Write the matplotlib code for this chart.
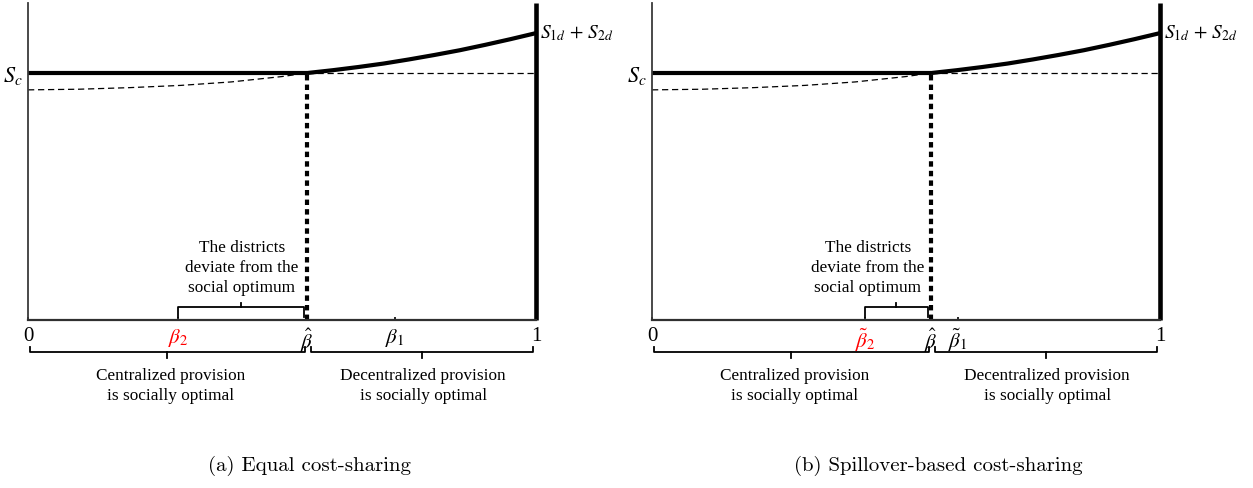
import matplotlib.pyplot as plt
from matplotlib.transforms import blended_transform_factory

plt.rcParams['mathtext.fontset'] = 'stix'

# shared curve shapes (y scaled 0..1 over the axes height)
beta_hat = 0.549
s_c = 0.779
dec_x = [0.549, 0.60, 0.65, 0.70, 0.75, 0.80, 0.85, 0.90, 0.95, 1.0]
dec_y = [0.779, 0.788, 0.798, 0.809, 0.822, 0.836, 0.851, 0.868, 0.886, 0.905]
dash_x = [0.0, 0.1, 0.2, 0.3, 0.4, 0.5, 0.549]
dash_y = [0.726, 0.728, 0.733, 0.740, 0.751, 0.768, 0.779]

# per-panel tick positions and labels
beta2_a, beta1_a = 0.295, 0.722
beta2_b, beta1_b = 0.419, 0.602
labels_a = ['0', r'$\beta_2$', r'$\hat{\beta}$', r'$\beta_1$', '1']
labels_b = ['0', r'$\tilde{\beta}_2$', r'$\hat{\beta}$', r'$\tilde{\beta}_1$', '1']
captions = ['(a) Equal cost-sharing', '(b) Spillover-based cost-sharing']

serif = 'Liberation Serif'
px = 1 / 317.0


def brace(ax, x0, x1, y, hook, tick):
    tr = blended_transform_factory(ax.transData, ax.transAxes)
    xm = (x0 + x1) / 2
    ax.plot([x0, x0, x1, x1], [y + hook, y, y, y + hook], color='black', lw=1.3,
            transform=tr, clip_on=False, solid_joinstyle='round')
    ax.plot([xm, xm], [y, y + tick], color='black', lw=1.3, transform=tr, clip_on=False)


def panel(ax, beta2, beta1, labels, text_x):
    ax.set_xlim(0, 1)
    ax.set_ylim(0, 1)
    for s in ['top', 'right']:
        ax.spines[s].set_visible(False)
    ax.spines['left'].set_linewidth(1.3)
    ax.spines['left'].set_color('#3a3a3a')
    ax.spines['bottom'].set_linewidth(1.6)
    ax.spines['bottom'].set_color('#303030')

    ax.plot([0, beta_hat], [s_c, s_c], color='black', lw=3.0, solid_capstyle='butt')
    ax.plot(dec_x, dec_y, color='black', lw=3.0, solid_capstyle='butt', solid_joinstyle='round')
    ax.plot(dash_x, dash_y, color='black', lw=0.9, dashes=(5, 3))
    ax.plot([beta_hat, 1], [s_c, s_c], color='black', lw=0.9, dashes=(5, 3))
    ax.plot([beta_hat, beta_hat], [0, s_c], color='black', lw=3.0, dashes=(1.3, 1.0))
    ax.plot([1, 1], [0, 1], color='black', lw=3.3, solid_capstyle='butt', clip_on=False)

    ax.set_xticks([0, beta2, beta_hat, beta1, 1])
    ax.set_xticklabels(labels)
    ax.tick_params(axis='x', direction='in', length=2, width=1.2, pad=5, labelsize=15)
    ticklabels = ax.get_xticklabels()
    ticklabels[1].set_color('red')
    for t in [ticklabels[0], ticklabels[4]]:
        t.set_fontfamily(serif)
        t.set_fontsize(15)
    ax.set_yticks([s_c])
    ax.set_yticklabels([r'$S_c$'])
    ax.tick_params(axis='y', length=0, pad=4, labelsize=16)
    ax.text(1.008, 0.905, r'$S_{1d}\,+\,S_{2d}$', fontsize=14, va='center', ha='left')

    brace(ax, beta2, beta_hat - 0.006, 13 * px, -10 * px, 4 * px)
    tr = blended_transform_factory(ax.transData, ax.transAxes)
    ax.text(text_x, 0.164, 'The districts\ndeviate from the\nsocial optimum', transform=tr,
            ha='center', va='center', fontsize=12.4, family=serif, linespacing=1.36)

    brace(ax, 0.004, beta_hat - 0.004, -32 * px, 5 * px, -6 * px)
    brace(ax, beta_hat + 0.008, 0.994, -32 * px, 5 * px, -6 * px)
    ax.text(0.28, -0.207, 'Centralized provision\nis socially optimal', transform=tr,
            ha='center', va='center', fontsize=12.4, family=serif, linespacing=1.32)
    ax.text(0.778, -0.207, 'Decentralized provision\nis socially optimal', transform=tr,
            ha='center', va='center', fontsize=12.4, family=serif, linespacing=1.32)


fig = plt.figure(figsize=(12.53, 4.88), dpi=100)
ax_a = fig.add_axes([28 / 1253, 168 / 488, 508 / 1253, 317 / 488])
ax_b = fig.add_axes([652 / 1253, 168 / 488, 508 / 1253, 317 / 488])
panel(ax_a, beta2_a, beta1_a, labels_a, 0.421)
panel(ax_b, beta2_b, beta1_b, labels_b, 0.425)

fig.text(310 / 1253, 22 / 488, captions[0], ha='center', va='center', fontsize=15, family='cmr10')
fig.text(938 / 1253, 22 / 488, captions[1], ha='center', va='center', fontsize=15, family='cmr10')

fig.savefig('out.png', dpi=100)
